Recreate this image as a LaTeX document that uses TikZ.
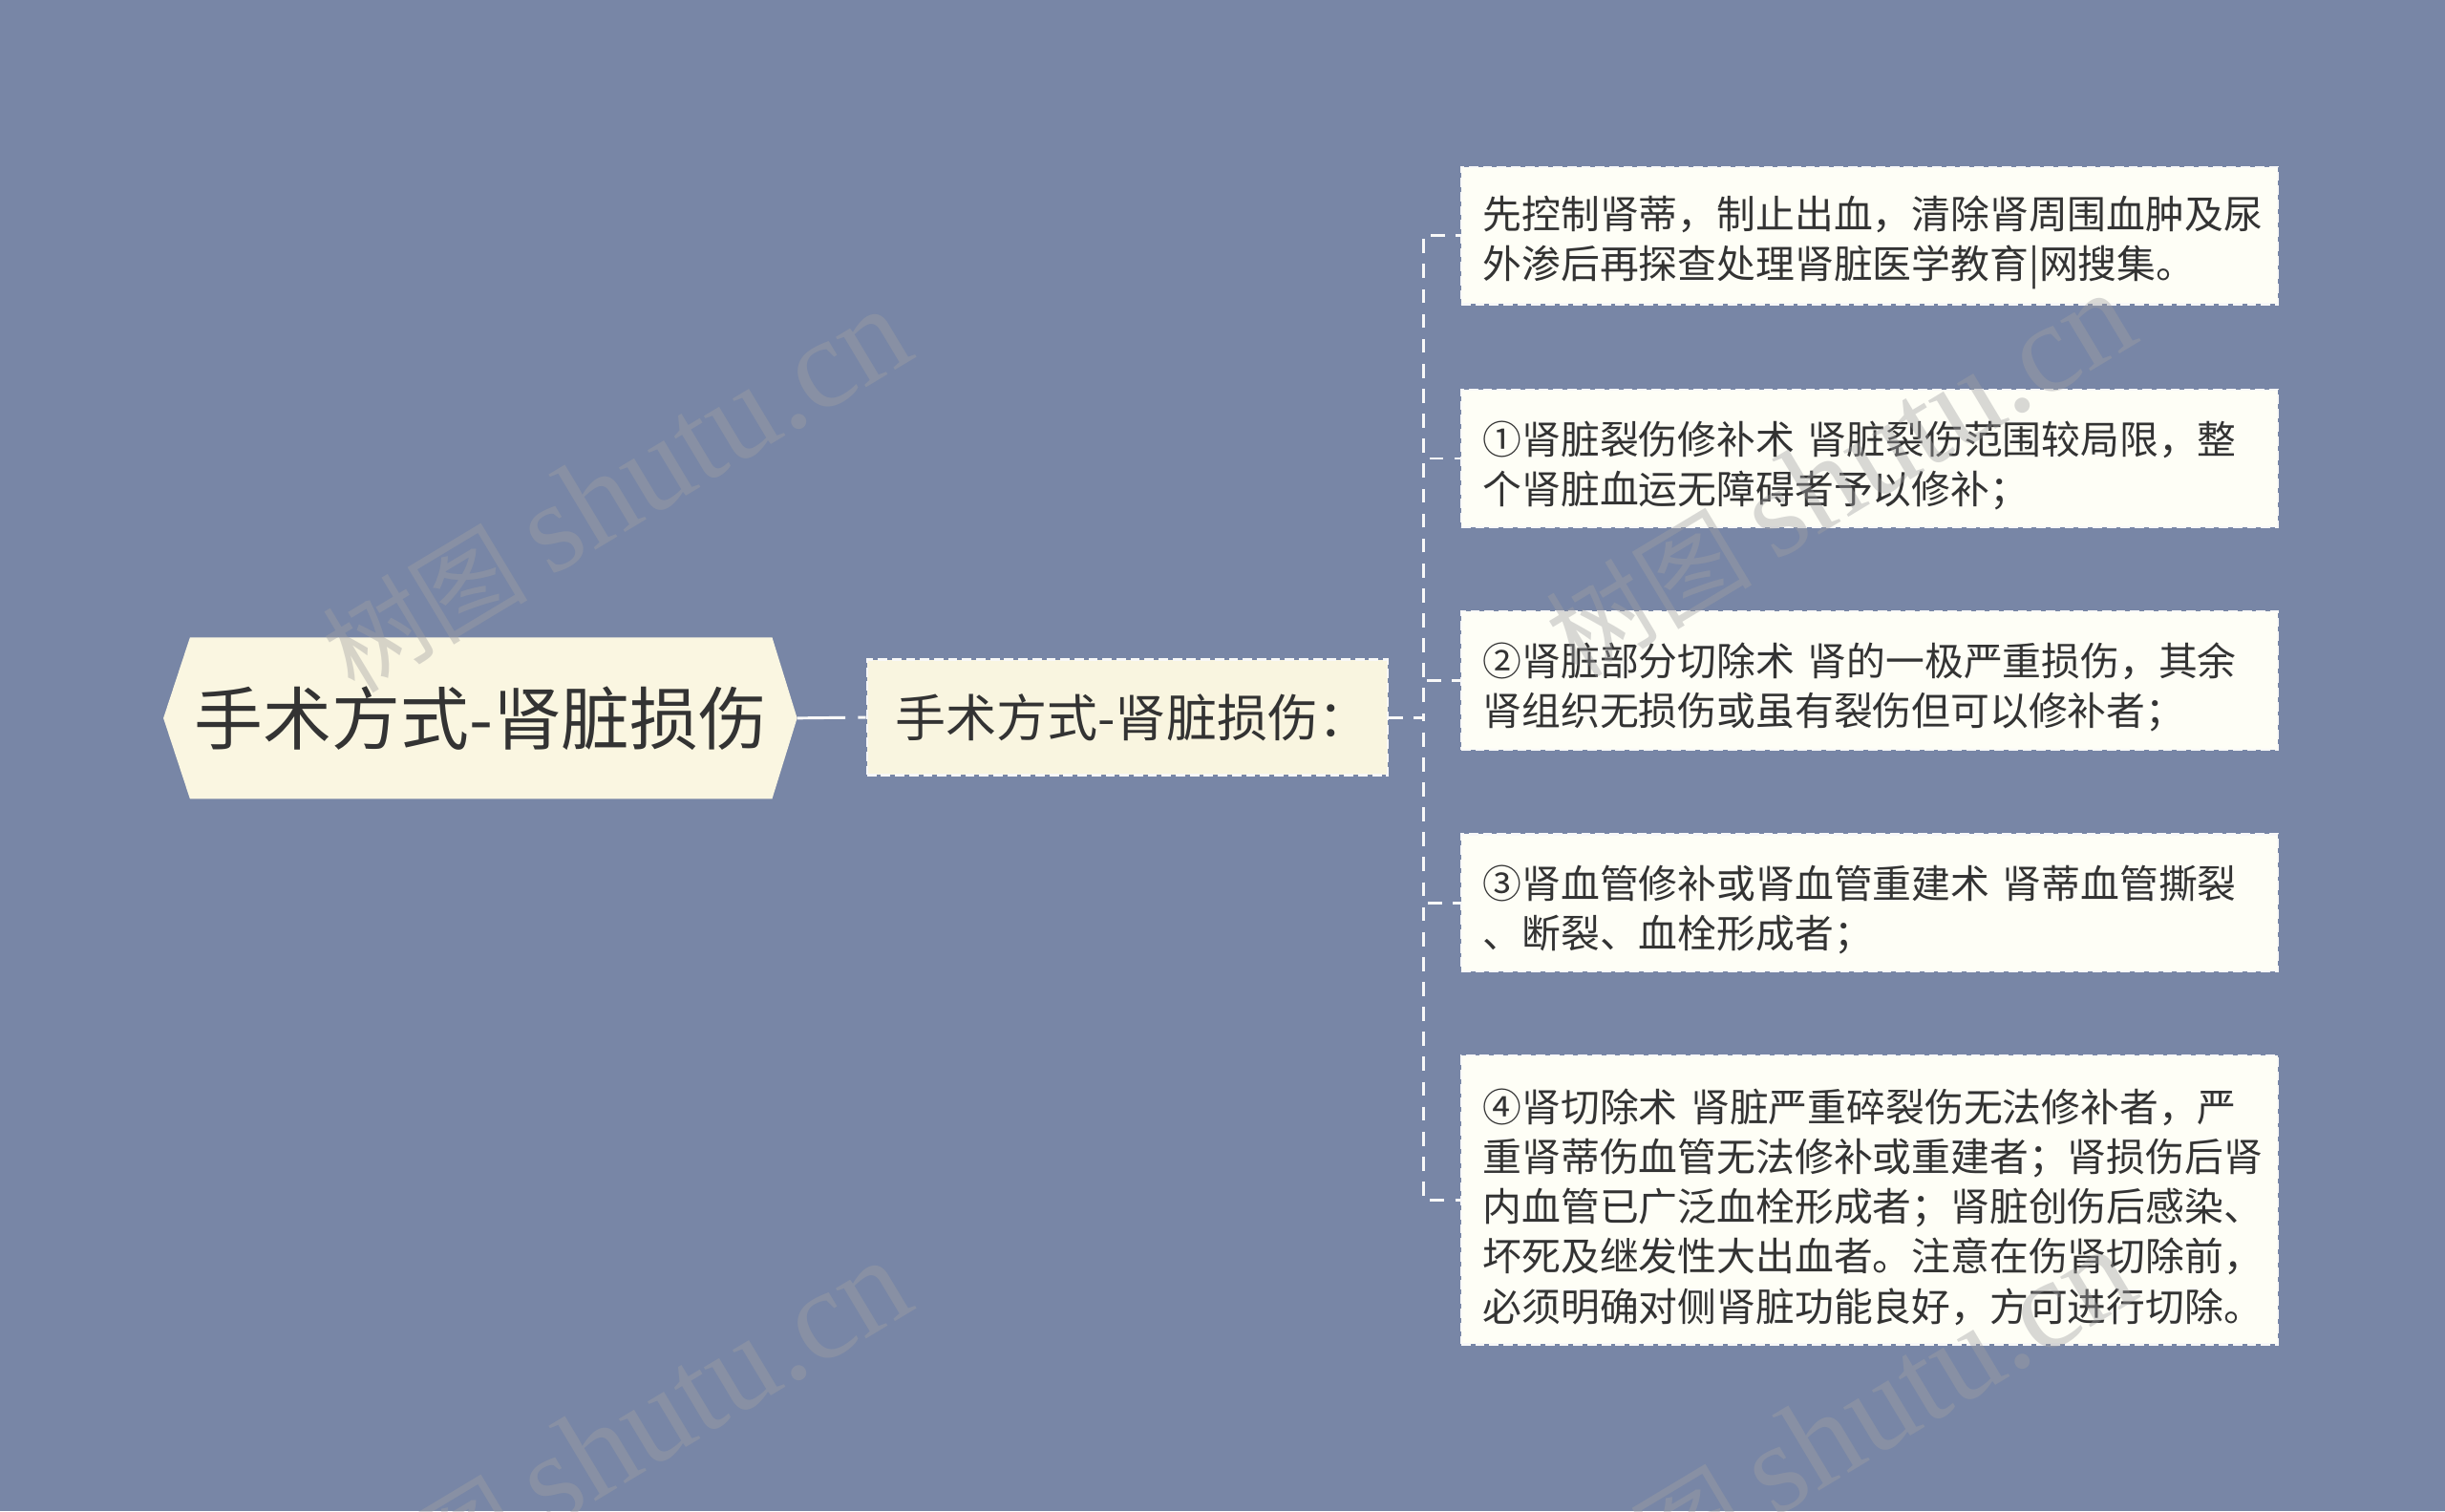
\documentclass[tikz,border=0pt]{standalone}
\usepackage{fontspec}
\setmainfont{Noto Sans CJK SC}
\newfontfamily\wmserif{Liberation Serif}
\usetikzlibrary{backgrounds,calc}
\definecolor{bgc}{RGB}{120,134,166}
\definecolor{rootfill}{RGB}{250,246,225}
\definecolor{secfill}{RGB}{249,245,224}
\definecolor{leaffill}{RGB}{254,254,246}
\definecolor{txt}{RGB}{51,51,51}
\definecolor{linec}{RGB}{248,248,248}
\definecolor{wmc}{RGB}{160,160,162}
\newcommand{\toppad}{\rule{0pt}{30pt}}
\begin{document}
\begin{tikzpicture}[x=1pt,y=-1pt,
 conn/.style={draw=linec, line width=1.8pt, dash pattern=on 9pt off 7pt},
 rootconn/.style={draw=linec, line width=1.8pt, dash pattern=on 31pt off 8pt},
 rootbox/.style={inner sep=0pt, minimum width=373pt, minimum height=103pt, text=txt, font=\fontsize{44}{50}\selectfont},
 secbox/.style={draw=linec, line width=1.4pt, dash pattern=on 6pt off 3pt, fill=secfill, minimum width=334pt, minimum height=74pt, inner sep=0pt, text=txt, font=\fontsize{32.5}{38}\selectfont},
 leafbox/.style={draw=linec, line width=1.4pt, dash pattern=on 6pt off 3pt, fill=leaffill, text width=496pt, inner xsep=14pt, inner ysep=0pt, align=left, text=txt, font=\fontsize{25}{32}\selectfont},
 wm/.style={text=wmc, opacity=0.4, rotate=31, font=\fontsize{66}{70}\selectfont}
]
\useasboundingbox (0,0) rectangle (1568,969);

\node[rootbox] (root) at (308.5,460.5) {手术方式-肾脏损伤};
\coordinate (roottip) at ($(root.east)+(16,0)$);
\coordinate (rootleft) at ($(root.west)+(-17,0)$);

\node[secbox] (sec) at (723,460) {\hspace{6pt}手术方式-肾脏损伤：};

\node[leafbox, minimum height=88pt] (l1) at (1199,151) {\toppad 先控制肾蒂，制止出血，清除肾周围血肿及尿\\外渗后再探查处理肾脏医学教育|网搜集。};
\node[leafbox, minimum height=88pt] (l2) at (1199,294) {\toppad ①肾脏裂伤修补术 肾脏裂伤范围较局限，整\\个肾脏血运无障碍者予以修补；};
\node[leafbox, minimum height=89pt] (l3) at (1199,436.5) {\toppad ②肾脏部分切除术 肾的一极严重损伤，其余\\肾组织无损伤或虽有裂伤但可以修补者；};
\node[leafbox, minimum height=88pt] (l4) at (1199,579) {\toppad ③肾血管修补或肾血管重建术 肾蒂血管撕裂\\、断裂、血栓形成者；};
\node[leafbox, minimum height=185pt] (l5) at (1199,769.5) {\toppad ④肾切除术 肾脏严重碎裂伤无法修补者，严\\重肾蒂伤血管无法修补或重建者；肾损伤后肾\\内血管已广泛血栓形成者；肾脏创伤后感染、\\坏死及继发性大出血者。注意在伤肾切除前，\\必须明确对侧肾脏功能良好，方可进行切除。};

\begin{scope}[on background layer]
 \fill[bgc] (0,0) rectangle (1568,969);
 \fill[rootfill] (root.north west) -- (root.north east) -- (roottip) -- (root.south east) -- (root.south west) -- (rootleft) -- cycle;
\end{scope}

\coordinate (trunk) at (913,460);
\draw[rootconn] (roottip) -- (sec.west);
\foreach \l in {l1,l2,l3,l4,l5}
  \draw[conn] (sec.east) -- (trunk) |- (\l.west);

\node[wm] (wm1) at (395,315) {树图 {\fontsize{82}{90}\selectfont\wmserif shutu.cn}};
\node[wm] (wm2) at (1180,305) {树图 {\fontsize{82}{90}\selectfont\wmserif shutu.cn}};
\node[wm] (wm3) at (395,925) {树图 {\fontsize{82}{90}\selectfont\wmserif shutu.cn}};
\node[wm] (wm4) at (1180,918) {树图 {\fontsize{82}{90}\selectfont\wmserif shutu.cn}};
\end{tikzpicture}
\end{document}
